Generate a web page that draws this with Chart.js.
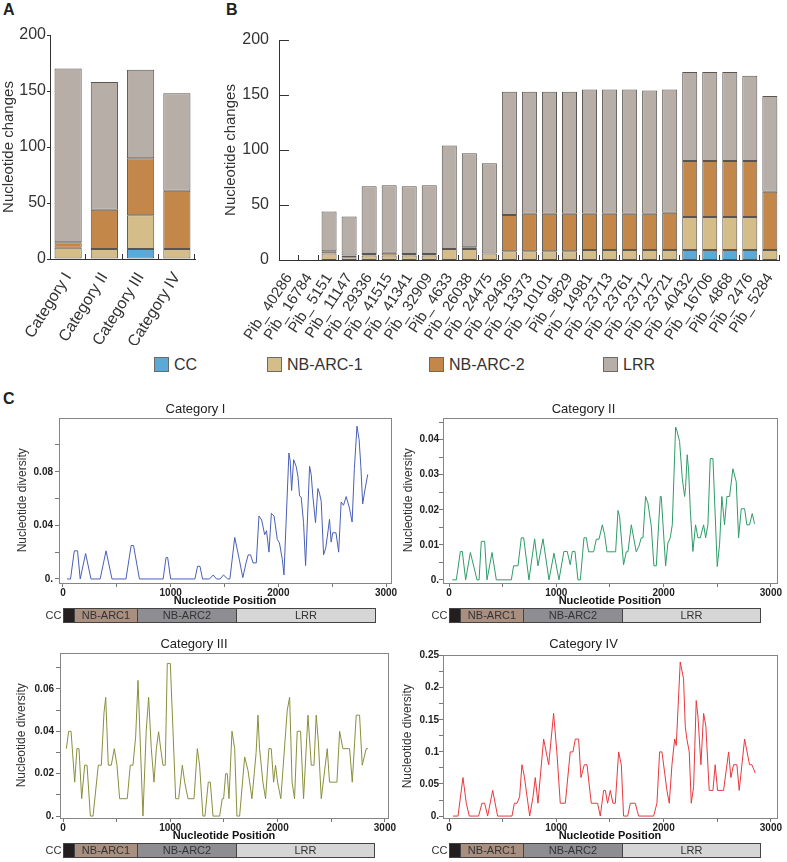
<!DOCTYPE html>
<html>
<head>
<meta charset="utf-8">
<script src="https://cdn.jsdelivr.net/npm/chart.js@4.4.1/dist/chart.umd.min.js"></script>
<style>
  body { margin: 0; background: #fff; }
  #page { position: relative; width: 787px; height: 862px; overflow: hidden; font-family: "Liberation Sans", Arial, sans-serif; color: #222; }
  canvas { position: absolute; }
  .letter { position: absolute; font-weight: bold; font-size: 16px; }
  .leg { position: absolute; top: 357px; font-size: 16px; line-height: 15px; height: 15px; white-space: nowrap; color: #333; }
  .leg span { display: inline-block; width: 13px; height: 13px; border: 1px solid #6a6a6a; vertical-align: top; margin-right: 5px; }
</style>
</head>
<body>
<div id="page">
  <div class="letter" style="left:3px;top:1px">A</div>
  <div class="letter" style="left:226px;top:1px">B</div>
  <div class="letter" style="left:3px;top:390px">C</div>

  <canvas id="chartA" width="200" height="345" style="left:0;top:0"></canvas>
  <canvas id="chartB" width="575" height="345" style="left:212px;top:0"></canvas>

  <div class="leg" style="left:154px"><span style="background:#5aaad8"></span>CC</div>
  <div class="leg" style="left:267px"><span style="background:#d5bd89"></span>NB-ARC-1</div>
  <div class="leg" style="left:429px"><span style="background:#c4874a"></span>NB-ARC-2</div>
  <div class="leg" style="left:603px"><span style="background:#b7aea7"></span>LRR</div>

  <canvas id="chartC1" width="400" height="240" style="left:0;top:388px"></canvas>
  <canvas id="chartC2" width="397" height="240" style="left:390px;top:388px"></canvas>
  <canvas id="chartC3" width="400" height="232" style="left:0;top:630px"></canvas>
  <canvas id="chartC4" width="397" height="232" style="left:390px;top:630px"></canvas>
</div>

<script>
// ---- Panel A: nucleotide changes per category ----
const categoriesA = ["Category I", "Category II", "Category III", "Category IV"];
const ccA     = [0, 0, 9, 0];
const nbarc1A = [10, 9, 30, 9];
const nbarc2A = [5, 35, 51, 52];
const lrrA    = [155, 114, 79, 87];

// ---- Panel B: nucleotide changes per Pib allele ----
const genesB = ["Pib_ 40286", "Pib_ 16784", "Pib_ 5151", "Pib_ 11147", "Pib_ 29336", "Pib_ 41515",
  "Pib_ 41341", "Pib_ 32909", "Pib_ 4633", "Pib_ 26038", "Pib_ 24475", "Pib_ 29436", "Pib_ 13373",
  "Pib_ 10101", "Pib_ 9829", "Pib_ 14981", "Pib_ 23713", "Pib_ 23761", "Pib_ 23712", "Pib_ 23721",
  "Pib_ 40432", "Pib_ 16706", "Pib_ 4868", "Pib_ 2476", "Pib_ 5284"];
const ccB     = [0, 0, 0, 0, 0, 0, 0, 0, 0, 0, 0, 0, 0, 0, 0, 0, 0, 0, 0, 0, 9, 9, 9, 9, 0];
const nbarc1B = [0, 0, 6, 2.5, 4, 4, 4, 4, 10, 10, 6, 8, 8, 8, 8, 9, 9, 9, 9, 9, 30, 30, 30, 30, 9];
const nbarc2B = [0, 0, 2, 1.5, 1.5, 2.5, 1.5, 1.5, 0, 1.5, 0, 33, 34, 34, 34, 33, 33, 33, 33, 34, 51, 51, 51, 51, 53];
const lrrB    = [0, 0, 36, 35.5, 61.5, 61.5, 61.5, 62.5, 94, 85.5, 82, 112, 111, 111, 111, 113, 113, 113, 112, 112, 81, 81, 81, 77.5, 87];

const yTicksAB = [0, 50, 100, 150, 200];

// ---- Panel C: nucleotide diversity along the gene ----
const posI = [37, 70, 105, 135, 160, 210, 260, 345, 400, 455, 585, 633, 655, 710, 930, 957, 972, 1000,
  1225, 1250, 1272, 1296, 1360, 1395, 1425, 1460, 1490, 1530, 1550, 1595, 1636, 1670, 1700, 1720, 1742,
  1765, 1795, 1820, 1845, 1873, 1890, 1913, 1935, 1960, 1990, 2010, 2037, 2052, 2098, 2110, 2123, 2142,
  2165, 2182, 2197, 2212, 2234, 2253, 2290, 2305, 2320, 2345, 2367, 2382, 2398, 2420, 2440, 2460, 2475,
  2490, 2505, 2535, 2560, 2583, 2605, 2630, 2660, 2685, 2706, 2730, 2750, 2766, 2783, 2805, 2830];
const divI = [0, 0, 0.021, 0.021, 0, 0.019, 0, 0, 0.021, 0, 0, 0.025, 0.025, 0, 0, 0.016, 0.016, 0,
  0, 0.0095, 0.0095, 0, 0, 0.003, 0, 0, 0.003, 0, 0, 0.031, 0.015, 0.001, 0.012, 0.018, 0.018,
  0.012, 0.012, 0.047, 0.044, 0.033, 0.036, 0.02, 0.049, 0.047, 0.0295, 0.027, 0.0145, 0.003, 0.094, 0.088, 0.066, 0.089,
  0.084, 0.0765, 0.062, 0.061, 0.042, 0.01, 0.084, 0.078, 0.062, 0.042, 0.0675, 0.064, 0.058, 0.018, 0.023, 0.035, 0.0445,
  0.0275, 0.0345, 0.0345, 0.02, 0.0575, 0.055, 0.0615, 0.053, 0.0425, 0.0825, 0.114, 0.104, 0.084, 0.056, 0.067, 0.078];

const posII = [31, 68, 106, 124, 155, 199, 250, 261, 280, 301, 332, 354, 401, 441, 581, 602, 643, 674, 696,
  745, 798, 829, 876, 932, 978, 1025, 1071, 1102, 1130, 1149, 1174, 1202, 1224, 1258, 1280, 1301, 1348,
  1373, 1398, 1429, 1450, 1472, 1553, 1575, 1590, 1627, 1652, 1668, 1699, 1745, 1770, 1792, 1808, 1832,
  1854, 1885, 1910, 1932, 1969, 1978, 2019, 2040, 2062, 2081, 2112, 2124, 2149, 2174, 2196, 2205, 2220,
  2233, 2249, 2273, 2298, 2320, 2342, 2373, 2392, 2413, 2435, 2460, 2500, 2522, 2543, 2568, 2590, 2615,
  2646, 2677, 2699, 2724, 2755, 2776, 2801, 2826, 2848];
const divII = [0, 0, 0.0081, 0.0081, 0, 0.0078, 0.0014, 0, 0, 0.011, 0.011, 0, 0.0078, 0, 0, 0.004, 0.004, 0.012, 0.012,
  0, 0.0117, 0.004, 0.0117, 0, 0.0076, 0, 0.0081, 0.0081, 0.0043, 0.0081, 0.0081, 0, 0, 0.012, 0.012, 0.008, 0.008,
  0.0116, 0.0116, 0.0157, 0.013, 0.008, 0.008, 0.0198, 0.018, 0.0043, 0.008, 0.008, 0.0157, 0.008, 0.0096, 0.012, 0.012, 0.0238,
  0.0219, 0.0154, 0.004, 0.004, 0.0238, 0.0238, 0.004, 0.0105, 0.012, 0.0157, 0.0436, 0.0426, 0.0395, 0.029, 0.0238, 0.0264, 0.0357,
  0.0314, 0.02, 0.0081, 0.0157, 0.012, 0.012, 0.0157, 0.012, 0.0157, 0.0346, 0.0346, 0.0038, 0.0102, 0.0238, 0.0157, 0.0238, 0.0238,
  0.0317, 0.028, 0.012, 0.0203, 0.0203, 0.0157, 0.0157, 0.0189, 0.016];

const posIII = [31, 53, 75, 109, 130, 149, 174, 202, 224, 255, 280, 329, 357, 382, 398, 422, 450, 478, 503,
  528, 599, 627, 652, 677, 699, 745, 776, 798, 823, 848, 870, 891, 915, 932, 953, 972, 1000, 1025, 1050,
  1078, 1112, 1134, 1165, 1221, 1252, 1273, 1304, 1323, 1354, 1373, 1398, 1460, 1484, 1497, 1516, 1531,
  1547, 1575, 1600, 1621, 1646, 1693, 1724, 1761, 1800, 1817, 1832, 1863, 1888, 1919, 1941, 1963, 1981,
  2000, 2030, 2090, 2112, 2135, 2158, 2183, 2214, 2242, 2283, 2314, 2339, 2360, 2380, 2407, 2463, 2484,
  2553, 2578, 2609, 2671, 2696, 2733, 2764, 2789, 2826, 2842];
const divIII = [0.0318, 0.04, 0.04, 0.016, 0.0318, 0.0318, 0.0082, 0.024, 0.024, 0, 0, 0.024, 0.024, 0.0487, 0.056, 0.024, 0.024, 0.0318, 0.024,
  0.0082, 0.0082, 0.024, 0.024, 0.0373, 0.064, 0, 0.0405, 0.056, 0.0318, 0.016, 0.0318, 0.0398, 0.03, 0.024, 0.024, 0.072, 0.072, 0.0405, 0.0082,
  0.0082, 0.024, 0.016, 0.0082, 0.0082, 0.0318, 0.024, 0, 0, 0.016, 0.016, 0, 0, 0.0082, 0.0082, 0.02, 0.02,
  0.0082, 0.04, 0.0318, 0, 0, 0.0279, 0.0216, 0.0082, 0.03, 0.0476, 0.0318, 0.016, 0.0082, 0.0318, 0.0318, 0.016, 0.024,
  0.016, 0.0082, 0.05, 0.056, 0.016, 0.0082, 0.04, 0.04, 0.0082, 0.0476, 0.024, 0.024, 0.0476, 0.035, 0.0082, 0.0318, 0.016,
  0.016, 0.04, 0.0318, 0.0318, 0.016, 0.0476, 0.0476, 0.024, 0.0318, 0.0318];

const posIV = [37, 84, 130, 161, 189, 276, 307, 332, 360, 407, 453, 587, 609, 634, 658, 680, 702, 752, 783,
  804, 829, 882, 929, 975, 1006, 1037, 1084, 1130, 1155, 1177, 1208, 1230, 1261, 1286, 1326, 1385, 1410,
  1441, 1457, 1478, 1503, 1528, 1550, 1581, 1606, 1627, 1665, 1690, 1736, 1767, 1907, 1938, 1963, 1985,
  2031, 2053, 2078, 2103, 2118, 2155, 2186, 2202, 2217, 2239, 2258, 2280, 2304, 2320, 2348, 2373, 2394,
  2425, 2460, 2481, 2503, 2559, 2606, 2627, 2652, 2683, 2705, 2755, 2801, 2823, 2854];
const divIV = [0, 0, 0.06, 0.02, 0, 0, 0.02, 0.02, 0, 0.04, 0, 0, 0.02, 0.02, 0.03, 0.08, 0.062, 0, 0.03,
  0.06, 0.02, 0.12, 0.08, 0.16, 0.098, 0.02, 0.02, 0.1, 0.1, 0.12, 0.12, 0.06, 0.08, 0.08, 0.02, 0.02, 0,
  0.04, 0.04, 0.02, 0.04, 0.02, 0.02, 0.1, 0.08, 0, 0, 0.02, 0.02, 0, 0, 0.02, 0.1, 0.1,
  0.04, 0.02, 0.08, 0.12, 0.11, 0.24, 0.214, 0.14, 0.12, 0.1, 0.02, 0.046, 0.18, 0.156, 0.08, 0.16, 0.14,
  0.04, 0.04, 0.08, 0.04, 0.04, 0.1, 0.06, 0.08, 0.08, 0.04, 0.12, 0.08, 0.08, 0.067];

// protein domains along the gene (nucleotide positions)
const domainNames  = ["CC", "NB-ARC1", "NB-ARC2", "LRR"];
const domainStart  = [0, 100, 690, 1610];
const domainEnd    = [100, 690, 1610, 2900];
const domainColors = ["#231f20", "#a98f80", "#8e8e92", "#d6d6d7"];

Chart.defaults.font.family = '"Liberation Sans", Arial, sans-serif';
Chart.defaults.color = "#333";
Chart.defaults.animation = false;

const seriesColors = { cc: "#5aaad8", nb1: "#d5bd89", nb2: "#c4874a", lrr: "#b7aea7" };
const barEdge = "#5a5550";

// small inward ticks on the bar charts
const barTicks = {
  id: "barTicks",
  afterDraw(chart, args, opts) {
    const { ctx, chartArea, scales: { x, y } } = chart;
    const n = chart.data.labels.length;
    const half = (chartArea.right - chartArea.left) / n / 2;
    ctx.save();
    ctx.strokeStyle = "#333";
    ctx.lineWidth = 1;
    ctx.beginPath();
    for (let i = 0; i < n; i++) {
      const px = Math.round(x.getPixelForValue(i) + half) - 0.5;
      ctx.moveTo(px, chartArea.bottom);
      ctx.lineTo(px, chartArea.bottom - 5);
    }
    if (opts.yLen) {
      y.ticks.forEach(t => {
        const py = Math.round(y.getPixelForValue(t.value)) + 0.5;
        ctx.moveTo(chartArea.left, py);
        ctx.lineTo(chartArea.left + opts.yLen, py);
      });
    }
    ctx.stroke();
    ctx.restore();
  }
};

function stackedSets(cc, nb1, nb2, lrr) {
  const mk = (label, data, color) => ({
    label, data, backgroundColor: color, borderColor: barEdge,
    borderWidth: c => (c.raw ? 1 : 0), borderSkipped: false,
    barPercentage: 0.75, categoryPercentage: 1
  });
  return [
    mk("CC", cc, seriesColors.cc),
    mk("NB-ARC-1", nb1, seriesColors.nb1),
    mk("NB-ARC-2", nb2, seriesColors.nb2),
    mk("LRR", lrr, seriesColors.lrr)
  ];
}

function barChart(id, labels, sets, o) {
  return new Chart(document.getElementById(id), {
    type: "bar",
    data: { labels, datasets: sets },
    options: {
      responsive: false,
      layout: { padding: o.padding },
      plugins: { legend: { display: false }, tooltip: { enabled: false }, barTicks: { yLen: o.yInner } },
      scales: {
        x: {
          stacked: true,
          grid: { display: false },
          border: { display: true, color: "#333" },
          ticks: { autoSkip: false, minRotation: o.rot, maxRotation: o.rot, padding: 2, color: "#333", font: { size: o.xFont } },
          afterFit: s => { s.height = o.xHeight; }
        },
        y: {
          stacked: true, min: 0, max: 200,
          afterBuildTicks: s => { s.ticks = yTicksAB.map(v => ({ value: v })); },
          grid: { display: !o.yInner, drawOnChartArea: false, tickLength: 3, color: "#333" },
          border: { display: true, color: "#333" },
          ticks: { padding: o.yPad, color: "#333", font: { size: 16 } },
          title: { display: true, text: "Nucleotide changes", color: "#333", font: { size: 15 }, padding: { top: o.titlePad, bottom: 0 } },
          afterFit: s => { s.width = o.yWidth; }
        }
      }
    },
    plugins: [barTicks]
  });
}

barChart("chartA", categoriesA, stackedSets(ccA, nbarc1A, nbarc2A, lrrA),
  { padding: { top: 35, right: 5, bottom: 0, left: 0 }, rot: 58, xFont: 16, xHeight: 86, yWidth: 50, yPad: 1, yInner: 0, titlePad: 0 });
barChart("chartB", genesB, stackedSets(ccB, nbarc1B, nbarc2B, lrrB),
  { padding: { top: 40, right: 3, bottom: 0, left: 0 }, rot: 57, xFont: 15, xHeight: 85, yWidth: 67, yPad: 7, yInner: 10, titlePad: 10 });

// frame around the plot and the domain map under the axis
const frameDomains = {
  id: "frameDomains",
  afterDraw(chart) {
    const { ctx, chartArea: a, scales: { x } } = chart;
    ctx.save();
    ctx.strokeStyle = "#858585";
    ctx.lineWidth = 1;
    ctx.strokeRect(Math.round(a.left) + 0.5, Math.round(a.top) + 0.5, Math.round(a.right - a.left), Math.round(a.bottom - a.top));
    const top = Math.round(x.bottom) + 0.5, h = 14;
    ctx.font = '11px "Liberation Sans", Arial, sans-serif';
    ctx.textBaseline = "middle";
    domainNames.forEach((name, i) => {
      const x0 = Math.round(x.getPixelForValue(domainStart[i])) + 0.5;
      const x1 = Math.round(x.getPixelForValue(domainEnd[i])) + 0.5;
      ctx.fillStyle = domainColors[i];
      ctx.fillRect(x0, top, x1 - x0, h);
      ctx.strokeStyle = "#444";
      ctx.strokeRect(x0, top, x1 - x0, h);
      ctx.fillStyle = "#333";
      if (i === 0) {
        ctx.textAlign = "right";
        ctx.fillText(name, x0 - 2, top + h / 2 + 0.5);
      } else {
        ctx.textAlign = "center";
        ctx.fillText(name, (x0 + x1) / 2, top + h / 2 + 0.5);
      }
    });
    ctx.restore();
  }
};

const isStep = (v, step) => Math.abs(v / step - Math.round(v / step)) < 1e-6;

function diversityChart(id, pos, div, o) {
  const points = pos.map((p, i) => ({ x: p, y: div[i] }));
  return new Chart(document.getElementById(id), {
    type: "line",
    data: { datasets: [{ data: points, borderColor: o.color, borderWidth: 1, pointRadius: 0, tension: 0, fill: false }] },
    options: {
      responsive: false,
      layout: { padding: { top: 0, right: o.padRight, bottom: o.padBottom, left: 0 } },
      plugins: {
        legend: { display: false }, tooltip: { enabled: false },
        title: { display: true, text: o.title, color: "#222", font: { size: 13, weight: "normal" }, padding: { top: o.tTop, bottom: o.tBottom } }
      },
      scales: {
        x: {
          type: "linear", min: o.xMin, max: o.xMax,
          afterBuildTicks: s => { s.ticks = [0, 500, 1000, 1500, 2000, 2500, 3000].map(v => ({ value: v })); },
          grid: { display: true, drawOnChartArea: false, tickLength: 4, color: "#777" },
          border: { display: false },
          ticks: { autoSkip: false, maxRotation: 0, padding: 0, color: "#222", font: { size: 10, weight: "bold" },
                   callback: v => (isStep(v, 1000) ? String(v) : "") },
          title: { display: true, text: "Nucleotide Position", color: "#111", font: { size: 11, weight: "bold" }, padding: { top: 0, bottom: 0 } },
          afterFit: s => { s.height = 25; }
        },
        y: {
          min: o.yMin, max: o.yMax,
          afterBuildTicks: s => {
            const t = [];
            for (let i = 0; i * o.yStep <= o.yTickMax + 1e-9; i++) t.push({ value: Math.round(i * o.yStep * 1e6) / 1e6 });
            s.ticks = t;
          },
          grid: { display: true, drawOnChartArea: false, tickLength: 4, color: "#777" },
          border: { display: false },
          ticks: { autoSkip: false, padding: o.yPad, color: "#222", font: { size: 10, weight: "bold" },
                   callback: v => (isStep(v, o.yLabelStep) ? (v === 0 ? "0." : String(parseFloat(v.toFixed(4)))) : "") },
          title: { display: true, text: "Nucleotide diversity", color: "#333", font: { size: 12 }, padding: { top: o.yTitlePad, bottom: 0 } },
          afterFit: s => { s.width = o.yWidth; }
        }
      }
    },
    plugins: [frameDomains]
  });
}

diversityChart("chartC1", posI, divI, {
  title: "Category I", color: "#4a5fb5", tTop: 14, tBottom: 0,
  xMin: -37, xMax: 3046, yMin: -0.003, yMax: 0.1204, yStep: 0.02, yTickMax: 0.1, yLabelStep: 0.04,
  yWidth: 59, yPad: 2, yTitlePad: 15, padRight: 9, padBottom: 20
});
diversityChart("chartC2", posII, divII, {
  title: "Category II", color: "#2f9b68", tTop: 14, tBottom: 0,
  xMin: -56, xMax: 3057, yMin: -0.0009, yMax: 0.0463, yStep: 0.005, yTickMax: 0.045, yLabelStep: 0.01,
  yWidth: 53, yPad: 0, yTitlePad: 11, padRight: 10, padBottom: 20
});
diversityChart("chartC3", posIII, divIII, {
  title: "Category III", color: "#8a8f3c", tTop: 7, tBottom: 0,
  xMin: -28, xMax: 3029, yMin: -0.0009, yMax: 0.0771, yStep: 0.01, yTickMax: 0.07, yLabelStep: 0.02,
  yWidth: 60, yPad: 2, yTitlePad: 14, padRight: 12, padBottom: 19
});
diversityChart("chartC4", posIV, divIV, {
  title: "Category IV", color: "#e8383e", tTop: 7, tBottom: 2,
  xMin: -56, xMax: 3057, yMin: -0.003, yMax: 0.2516, yStep: 0.025, yTickMax: 0.25, yLabelStep: 0.05,
  yWidth: 53, yPad: 0, yTitlePad: 10, padRight: 10, padBottom: 19
});
</script>
</body>
</html>
